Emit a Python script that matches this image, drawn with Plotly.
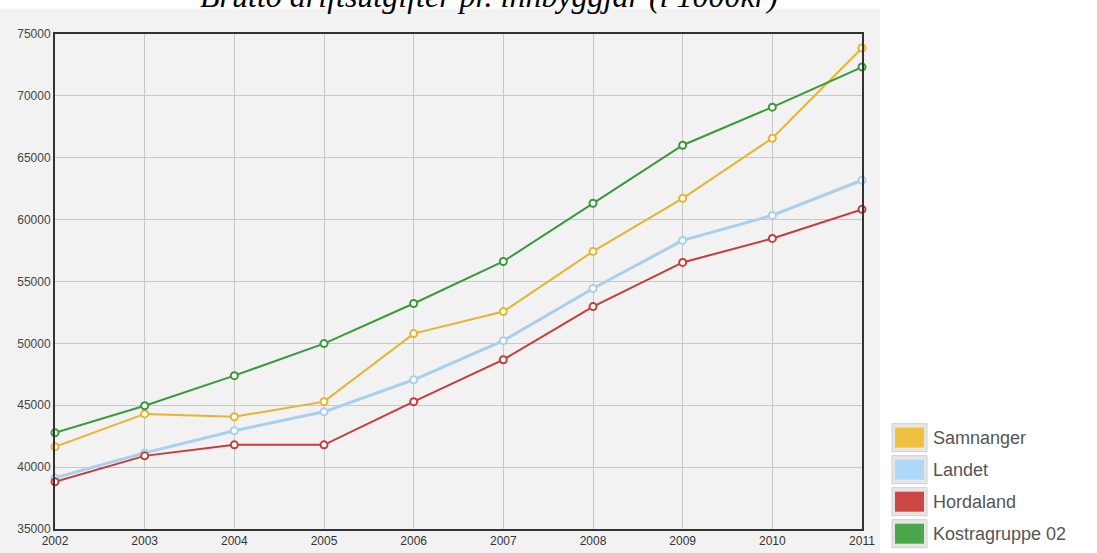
import plotly.graph_objects as go

years = [2002, 2003, 2004, 2005, 2006, 2007, 2008, 2009, 2010, 2011]
samnanger = [41640, 44300, 44070, 45290, 50790, 52570, 57430, 61720, 66580, 73870]
landet = [39130, 41150, 42940, 44470, 47060, 50220, 54430, 58320, 60340, 63180]
hordaland = [38810, 40910, 41800, 41800, 45290, 48680, 52970, 56540, 58480, 60830]
kostra = [42770, 44960, 47390, 49980, 53220, 56620, 61320, 66010, 69090, 72330]

names = ["Samnanger", "Landet", "Hordaland", "Kostragruppe 02"]
series = [samnanger, landet, hordaland, kostra]
line_colors = ["#E6B42E", "#A9CFEF", "#C63B3B", "#389A38"]
swatch_colors = ["#EEC23F", "#AED7F8", "#CC4646", "#4CA64C"]
line_widths = [2, 3, 2, 2]
title_text = "Brutto driftsutgifter pr. innbyggjar (i 1000kr)"
y_ticks = [35000, 40000, 45000, 50000, 55000, 60000, 65000, 70000, 75000]

# the photographed page appears vertically compressed by ~553/560
S = 560 / 553
W, H = 1097, 560
L, R = 55, 235
T = round(34 * S)
B = H - round(528 * S)
pw = W - L - R
ph = H - T - B

def px_x(p):
    return (p - L) / pw

def px_y(p):
    return (H - B - p * S) / ph

fig = go.Figure()
order = [1, 2, 0, 3]
for i in order:
    fig.add_trace(go.Scatter(
        x=years, y=series[i], name=names[i], mode="lines+markers",
        line=dict(color=line_colors[i], width=line_widths[i]),
        marker=dict(symbol="circle", size=7, color="white",
                    line=dict(color=line_colors[i], width=2)),
        showlegend=False, cliponaxis=False,
    ))

shapes = [
    dict(type="rect", xref="paper", yref="paper", x0=px_x(0), x1=px_x(880),
         y0=px_y(560), y1=px_y(8), fillcolor="#F2F2F2", line=dict(width=0),
         layer="below"),
]
annotations = [
    dict(text=title_text, xref="paper", yref="paper", x=px_x(489), y=px_y(-4),
         xanchor="center", yanchor="middle", showarrow=False,
         font=dict(family="Liberation Serif", size=32, color="#000000", style="italic"),
         ),
]
row0 = 437
for k, nm in enumerate(names):
    cy = row0 + 32 * k
    shapes.append(dict(type="rect", xref="paper", yref="paper",
                       x0=px_x(892), x1=px_x(927), y0=px_y(cy + 14), y1=px_y(cy - 14),
                       fillcolor="#E6E6E6", line=dict(color="#CFCFCF", width=1),
                       layer="above"))
    shapes.append(dict(type="rect", xref="paper", yref="paper",
                       x0=px_x(895), x1=px_x(924), y0=px_y(cy + 10), y1=px_y(cy - 10),
                       fillcolor=swatch_colors[k], line=dict(width=0), layer="above"))
    annotations.append(dict(text=nm, xref="paper", yref="paper", x=px_x(931), y=px_y(cy),
                            xanchor="left", yanchor="middle", showarrow=False,
                            font=dict(family="Arial", size=18, color="#555555")))

fig.update_layout(
    width=W, height=H,
    margin=dict(l=L, r=R, t=T, b=B),
    paper_bgcolor="white", plot_bgcolor="#F2F2F2",
    shapes=shapes, annotations=annotations,
    showlegend=False,
    xaxis=dict(range=[2002, 2011], tickvals=years, ticktext=[str(y) for y in years],
               showgrid=True, gridcolor="#C8C8C8", gridwidth=1,
               showline=True, linecolor="#333333", linewidth=2, mirror=True,
               ticks="", zeroline=False,
               tickfont=dict(family="Arial", size=12, color="#333333")),
    yaxis=dict(range=[35000, 75000], tickvals=y_ticks,
               ticktext=[str(v) for v in y_ticks],
               showgrid=True, gridcolor="#C8C8C8", gridwidth=1,
               showline=True, linecolor="#333333", linewidth=2, mirror=True,
               ticks="", zeroline=False,
               tickfont=dict(family="Arial", size=12, color="#444444")),
)

fig.write_html("out.html", config={"displayModeBar": False},
               post_script="document.body.style.margin='0';document.body.style.overflow='hidden';")
